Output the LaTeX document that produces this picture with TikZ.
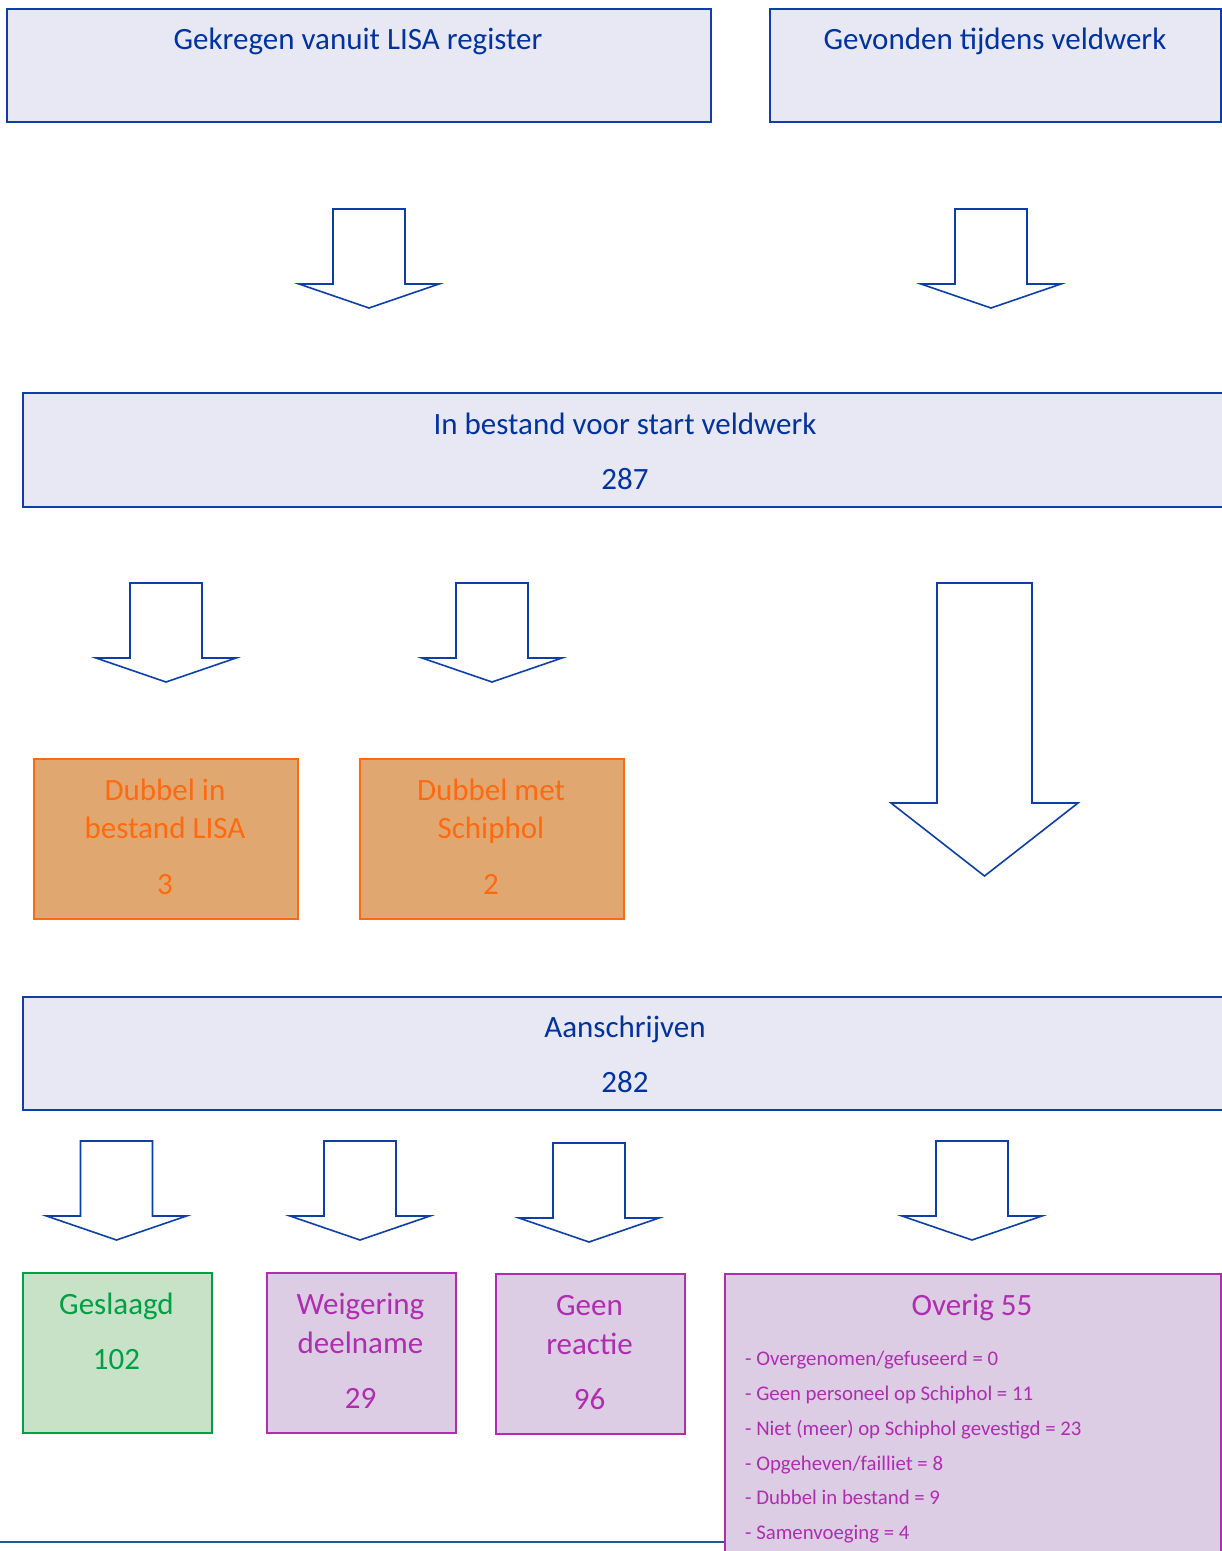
\documentclass[tikz,border=0pt]{standalone}
\usepackage{fontspec}
\setmainfont{Carlito}
\definecolor{bluefill}{HTML}{E8E8F4}
\definecolor{blueline}{HTML}{0D3FA6}
\definecolor{bluetext}{HTML}{0033A0}
\definecolor{orfill}{HTML}{E0A870}
\definecolor{orline}{HTML}{FF6A10}
\definecolor{grfill}{HTML}{C8E2C8}
\definecolor{grline}{HTML}{00A045}
\definecolor{pufill}{HTML}{DCCCE4}
\definecolor{puline}{HTML}{B02CB0}
\definecolor{rulecol}{HTML}{1F5A96}
\tikzset{
  box/.style={draw, line width=1.6pt, rectangle, inner sep=0pt, anchor=north west},
  bluebox/.style={box, draw=blueline, fill=bluefill},
  orbox/.style={box, draw=orline, fill=orfill},
  grbox/.style={box, draw=grline, fill=grfill},
  pubox/.style={box, draw=puline, fill=pufill},
  big/.style={font=\fontsize{31}{36}\selectfont, anchor=base, inner sep=0pt},
  small/.style={font=\fontsize{20.8}{25}\selectfont, anchor=base west, inner sep=0pt, text=puline},
  barrow/.style={draw=blueline, line width=1.6pt, fill=white, line join=miter}
}
% block arrow: #1 center x, #2 top y, #3 shoulder y, #4 tip y, #5 half shaft, #6 half head
\newcommand\blockarrow[6]{%
  \draw[barrow] (#1-#5,#2) -- (#1+#5,#2) -- (#1+#5,#3) -- (#1+#6,#3) -- (#1,#4) -- (#1-#6,#3) -- (#1-#5,#3) -- cycle;}
\begin{document}
\begin{tikzpicture}[x=1pt,y=-1pt]
\useasboundingbox (0,0) rectangle (1222,1551);
\clip (0,0) rectangle (1222,1551);
\fill[white] (0,0) rectangle (1222,1551);

% top boxes
\node[bluebox, minimum width=704pt, minimum height=113pt] (lisa) at (6,8) {};
\node[big, text=bluetext] (lisat) at (358,49) {Gekregen vanuit LISA register};
\node[bluebox, minimum width=451pt, minimum height=113pt] (veld) at (769,8) {};
\node[big, text=bluetext] (veldt) at (995,49) {Gevonden tijdens veldwerk};

\blockarrow{369}{209}{284}{308}{36}{70}
\blockarrow{991}{209}{284}{308}{36}{70}

% bestand
\node[bluebox, minimum width=1220pt, minimum height=114pt] (best) at (22,392) {};
\node[big, text=bluetext] (bestt) at (625,434) {In bestand voor start veldwerk};
\node[big, text=bluetext] (bestn) at (625,489) {287};

\blockarrow{166}{583}{658}{682}{36}{70}
\blockarrow{492}{583}{658}{682}{36}{70}
\blockarrow{984.5}{583}{803}{876}{47.5}{93.5}

% orange boxes
\node[orbox, minimum width=264pt, minimum height=160pt] (dub1) at (33,758) {};
\node[big, text=orline] at (165,800) {Dubbel in};
\node[big, text=orline] at (165,838) {bestand LISA};
\node[big, text=orline] at (165,894) {3};
\node[orbox, minimum width=264pt, minimum height=160pt] (dub2) at (359,758) {};
\node[big, text=orline] at (491,800) {Dubbel met};
\node[big, text=orline] at (491,838) {Schiphol};
\node[big, text=orline] at (491,894) {2};

% aanschrijven
\node[bluebox, minimum width=1220pt, minimum height=113pt] (aan) at (22,996) {};
\node[big, text=bluetext] at (625,1037) {Aanschrijven};
\node[big, text=bluetext] at (625,1092) {282};

\blockarrow{116.5}{1141}{1216}{1240}{36}{70}
\blockarrow{360}{1141}{1216}{1240}{36}{70}
\blockarrow{589}{1143}{1218}{1242}{36}{70}
\blockarrow{972}{1141}{1216}{1240}{36}{70}

% bottom line
\draw[draw=rulecol, line width=2pt] (0,1542) -- (1222,1542);

% result boxes
\node[grbox, minimum width=189pt, minimum height=160pt] (ges) at (22,1272) {};
\node[big, text=grline] at (116.5,1314) {Geslaagd};
\node[big, text=grline] at (116.5,1369) {102};

\node[pubox, minimum width=189pt, minimum height=160pt] (weig) at (266,1272) {};
\node[big, text=puline] at (360.5,1314) {Weigering};
\node[big, text=puline] at (360.5,1353) {deelname};
\node[big, text=puline] at (360.5,1408) {29};

\node[pubox, minimum width=189pt, minimum height=160pt] (geen) at (495,1273) {};
\node[big, text=puline] at (589.5,1315) {Geen};
\node[big, text=puline] at (589.5,1354) {reactie};
\node[big, text=puline] at (589.5,1409) {96};

\node[pubox, minimum width=496pt, minimum height=300pt] (ov) at (724,1273) {};
\node[big, text=puline] at (972,1315) {Overig 55};
\node[small] at (745,1365) {- Overgenomen/gefuseerd = 0};
\node[small] at (745,1400) {- Geen personeel op Schiphol = 11};
\node[small] at (745,1435) {- Niet (meer) op Schiphol gevestigd = 23};
\node[small] at (745,1470) {- Opgeheven/failliet = 8};
\node[small] at (745,1504) {- Dubbel in bestand = 9};
\node[small] at (745,1539) {- Samenvoeging = 4};
\end{tikzpicture}
\end{document}
